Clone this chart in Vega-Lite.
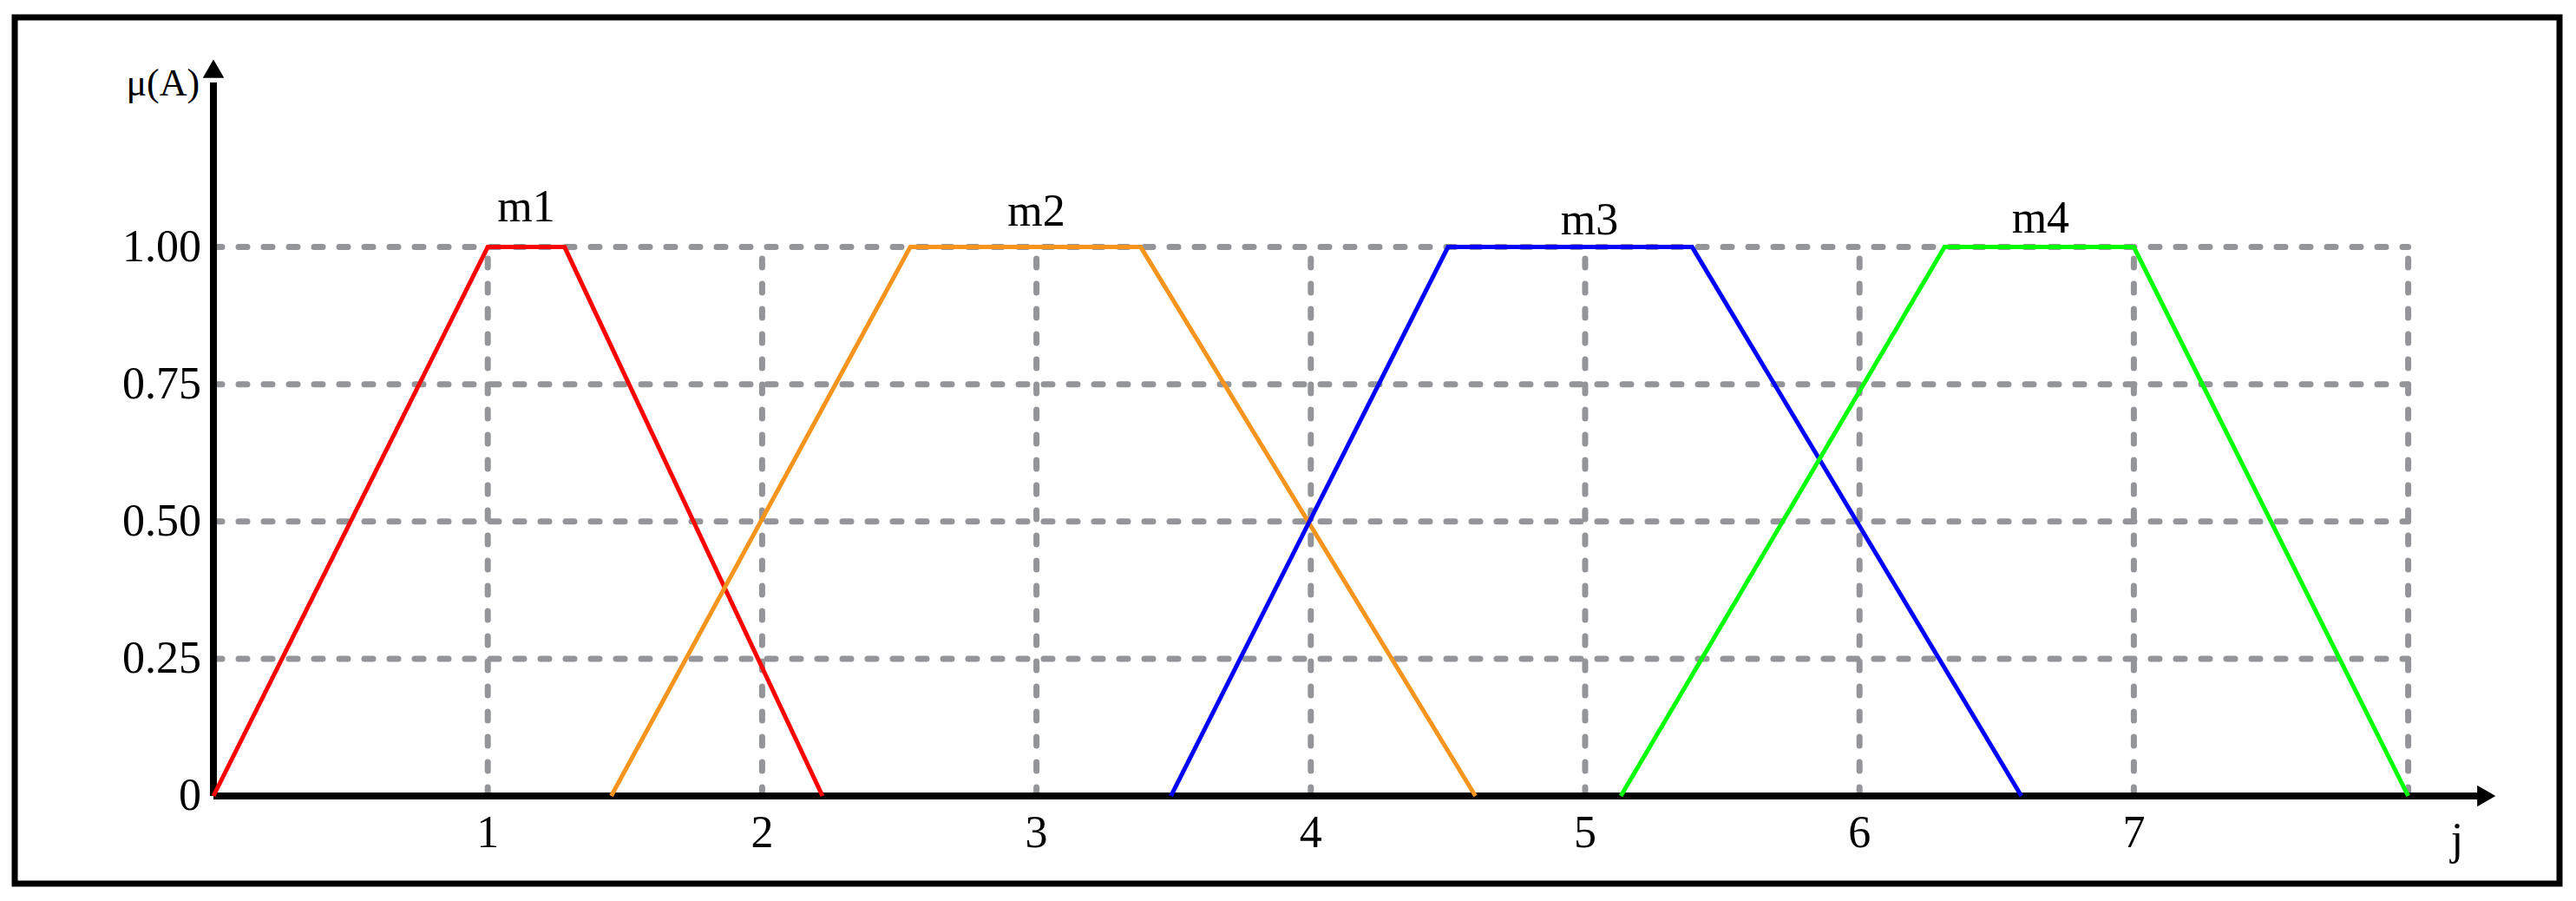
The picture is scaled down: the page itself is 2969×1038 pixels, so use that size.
{
  "$schema": "https://vega.github.io/schema/vega-lite/v6.json",
  "width": 2933,
  "height": 998,
  "autosize": {"type": "none"},
  "padding": {"left": 17, "top": 20, "right": 19, "bottom": 20},
  "background": "white",
  "config": {"view": {"stroke": "black", "strokeWidth": 7}},
  "datasets": {
    "hgrid": [{"y": 0.25}, {"y": 0.5}, {"y": 0.75}, {"y": 1.0}],
    "vgrid": [{"x": 1}, {"x": 2}, {"x": 3}, {"x": 4}, {"x": 5}, {"x": 6}, {"x": 7}, {"x": 8}],
    "sets": [
      {"set": "m1", "i": 0, "x": 0, "y": 0}, {"set": "m1", "i": 1, "x": 1, "y": 1}, {"set": "m1", "i": 2, "x": 1.28, "y": 1}, {"set": "m1", "i": 3, "x": 2.22, "y": 0},
      {"set": "m2", "i": 0, "x": 1.45, "y": 0}, {"set": "m2", "i": 1, "x": 2.54, "y": 1}, {"set": "m2", "i": 2, "x": 3.38, "y": 1}, {"set": "m2", "i": 3, "x": 4.6, "y": 0},
      {"set": "m3", "i": 0, "x": 3.49, "y": 0}, {"set": "m3", "i": 1, "x": 4.5, "y": 1}, {"set": "m3", "i": 2, "x": 5.39, "y": 1}, {"set": "m3", "i": 3, "x": 6.59, "y": 0},
      {"set": "m4", "i": 0, "x": 5.13, "y": 0}, {"set": "m4", "i": 1, "x": 6.31, "y": 1}, {"set": "m4", "i": 2, "x": 7.0, "y": 1}, {"set": "m4", "i": 3, "x": 8.0, "y": 0}
    ],
    "setlabels": [
      {"label": "m1", "x": 1.14, "y": 1.047},
      {"label": "m2", "x": 3.0, "y": 1.039},
      {"label": "m3", "x": 5.016, "y": 1.023},
      {"label": "m4", "x": 6.66, "y": 1.026}
    ],
    "ylabels": [
      {"label": "0", "y": 0.0}, {"label": "0.25", "y": 0.25}, {"label": "0.50", "y": 0.5}, {"label": "0.75", "y": 0.75}, {"label": "1.00", "y": 1.0}
    ],
    "xlabels": [
      {"label": "1", "x": 1}, {"label": "2", "x": 2}, {"label": "3", "x": 3}, {"label": "4", "x": 4}, {"label": "5", "x": 5}, {"label": "6", "x": 6}, {"label": "7", "x": 7}
    ],
    "arrows": [
      {"axis": "x", "x": 8.285, "y": 0, "shape": "triangle-right"},
      {"axis": "y", "x": 0, "y": 1.325, "shape": "triangle-up"}
    ],
    "ytitle": [{"label": "μ(A)", "x": -0.05, "y": 1.297}],
    "xtitle": [{"label": "j", "x": 8.178, "y": -0.08}]
  },
  "layer": [
    {
      "data": {"name": "hgrid"},
      "mark": {"type": "rule", "color": "#939598", "strokeWidth": 7, "strokeDash": [10, 19], "strokeCap": "round"},
      "encoding": {
        "y": {"field": "y", "type": "quantitative", "scale": {"domain": [-0.1597, 1.4184], "nice": false, "zero": false}, "axis": null},
        "x": {"datum": 0, "type": "quantitative", "scale": {"domain": [-0.7242, 8.5516], "nice": false, "zero": false}, "axis": null},
        "x2": {"datum": 8}
      }
    },
    {
      "data": {"name": "vgrid"},
      "mark": {"type": "rule", "color": "#939598", "strokeWidth": 7, "strokeDash": [10, 19], "strokeCap": "round"},
      "encoding": {
        "x": {"field": "x", "type": "quantitative"},
        "y": {"datum": 0, "type": "quantitative"},
        "y2": {"datum": 1}
      }
    },
    {
      "data": {"values": [{"a": 1}]},
      "mark": {"type": "rule", "color": "black", "strokeWidth": 8},
      "encoding": {
        "x": {"datum": 0, "type": "quantitative"},
        "x2": {"datum": 8.26},
        "y": {"datum": 0, "type": "quantitative"}
      }
    },
    {
      "data": {"values": [{"a": 1}]},
      "mark": {"type": "rule", "color": "black", "strokeWidth": 8},
      "encoding": {
        "y": {"datum": 0, "type": "quantitative"},
        "y2": {"datum": 1.30},
        "x": {"datum": 0, "type": "quantitative"}
      }
    },
    {
      "data": {"name": "arrows"},
      "mark": {"type": "point", "filled": true, "color": "black", "size": 600, "opacity": 1},
      "encoding": {
        "x": {"field": "x", "type": "quantitative"},
        "y": {"field": "y", "type": "quantitative"},
        "shape": {"field": "shape", "type": "nominal", "scale": null, "legend": null}
      }
    },
    {
      "data": {"name": "sets"},
      "mark": {"type": "line", "strokeWidth": 5, "strokeJoin": "miter"},
      "encoding": {
        "x": {"field": "x", "type": "quantitative"},
        "y": {"field": "y", "type": "quantitative"},
        "order": {"field": "i", "type": "quantitative"},
        "color": {"field": "set", "type": "nominal", "scale": {"domain": ["m1", "m2", "m3", "m4"], "range": ["#FF0000", "#F7941D", "#0000FF", "#00FF00"]}, "legend": null}
      }
    },
    {
      "data": {"name": "setlabels"},
      "mark": {"type": "text", "font": "Liberation Serif", "fontSize": 52, "align": "center", "baseline": "alphabetic", "color": "black"},
      "encoding": {
        "x": {"field": "x", "type": "quantitative"},
        "y": {"field": "y", "type": "quantitative"},
        "text": {"field": "label"}
      }
    },
    {
      "data": {"name": "ylabels"},
      "mark": {"type": "text", "font": "Liberation Serif", "fontSize": 52, "align": "right", "baseline": "middle", "color": "black"},
      "encoding": {
        "x": {"datum": -0.044, "type": "quantitative"},
        "y": {"field": "y", "type": "quantitative"},
        "text": {"field": "label"}
      }
    },
    {
      "data": {"name": "xlabels"},
      "mark": {"type": "text", "font": "Liberation Serif", "fontSize": 52, "align": "center", "baseline": "middle", "color": "black"},
      "encoding": {
        "x": {"field": "x", "type": "quantitative"},
        "y": {"datum": -0.068, "type": "quantitative"},
        "text": {"field": "label"}
      }
    },
    {
      "data": {"name": "ytitle"},
      "mark": {"type": "text", "font": "Liberation Serif", "fontSize": 44, "align": "right", "baseline": "middle", "color": "black"},
      "encoding": {
        "x": {"field": "x", "type": "quantitative"},
        "y": {"field": "y", "type": "quantitative"},
        "text": {"field": "label"}
      }
    },
    {
      "data": {"name": "xtitle"},
      "mark": {"type": "text", "font": "Liberation Serif", "fontSize": 52, "align": "center", "baseline": "middle", "color": "black"},
      "encoding": {
        "x": {"field": "x", "type": "quantitative"},
        "y": {"field": "y", "type": "quantitative"},
        "text": {"field": "label"}
      }
    }
  ]
}
